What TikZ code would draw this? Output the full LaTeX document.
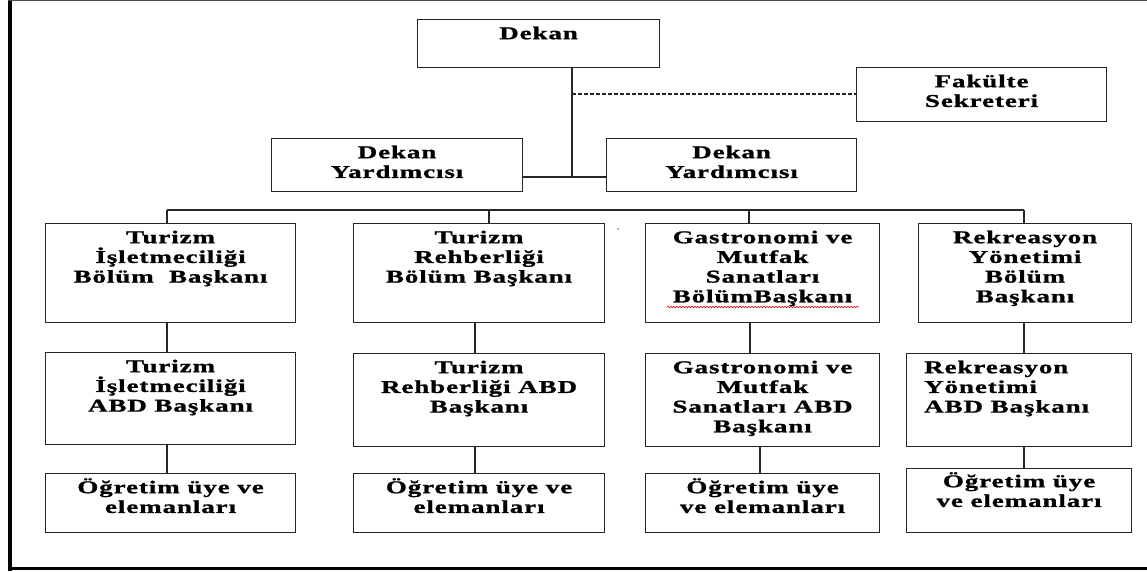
\documentclass[tikz,border=0pt]{standalone}
\usepackage{fontspec}
\newfontfamily\orgfont{Liberation Serif}[UprightFont={* Bold}, FakeStretch=1.5, LetterSpace=5, FakeBold=1.2]
\usetikzlibrary{decorations.pathmorphing}
\newcommand{\orgtxtfont}{\orgfont\fontsize{18}{19.7}\selectfont\lineskiplimit=-100pt\relax}
\tikzset{
  orgbox/.style={draw=black!85, line width=1.1pt, inner sep=0pt, anchor=north west},
  txt/.style={font=\orgtxtfont, align=center, inner sep=0pt, anchor=north},
  conn/.style={draw=black!85, line width=1.1pt},
  dconn/.style={draw=black!85, line width=1.3pt, dash pattern=on 4pt off 2pt}
}
\newcommand{\obox}[5]{\node[orgbox, minimum width={#4-#2}, minimum height={#5-#3}] (#1) at (#2,#3) {};}
\newcommand{\ostrut}{\rule{0pt}{17pt}}
\begin{document}
\begin{tikzpicture}[x=1pt,y=-1pt]
\useasboundingbox (0,0) rectangle (1147,571);
% outer frame
\draw[line width=4pt] (9.5,0) -- (9.5,571);
\draw[line width=3.5pt] (8,568.5) -- (1147,568.5);
\draw[black!70, line width=1pt] (8,0.5) -- (1147,0.5);
% boxes
\obox{dekan}{417}{19}{659}{67}
\obox{sek}{856}{67}{1106}{121}
\obox{dy1}{271}{138}{522}{191}
\obox{dy2}{606}{138}{856}{191}
\obox{c1r1}{45}{223}{295}{322}
\obox{c1r2}{45}{352}{295}{444}
\obox{c1r3}{45}{473}{295}{532}
\obox{c2r1}{353}{223}{604}{322}
\obox{c2r2}{353}{353}{604}{446}
\obox{c2r3}{353}{473}{604}{532}
\obox{c3r1}{645}{223}{879}{322}
\obox{c3r2}{645}{353}{879}{446}
\obox{c3r3}{645}{473}{879}{532}
\obox{c4r1}{918}{223}{1131}{322}
\obox{c4r2}{906}{353}{1131}{446}
\obox{c4r3}{906}{468}{1131}{532}
% texts
\node[txt] (dekant) at ([yshift=-3pt]dekan.north) {\ostrut Dekan};
\node[txt] (sekt) at ([yshift=-3pt]sek.north) {\ostrut Fakülte\\Sekreteri};
\node[txt] (dy1t) at ([yshift=-3pt]dy1.north) {\ostrut Dekan\\Yardımcısı};
\node[txt] (dy2t) at ([yshift=-3pt]dy2.north) {\ostrut Dekan\\Yardımcısı};
\node[txt] (c1r1t) at ([yshift=-3pt]c1r1.north) {\ostrut Turizm\\İşletmeciliği\\Bölüm~ Başkanı};
\node[txt] (c1r2t) at ([yshift=-3pt]c1r2.north) {\ostrut Turizm\\İşletmeciliği\\ABD Başkanı};
\node[txt] (c1r3t) at ([yshift=-3pt]c1r3.north) {\ostrut Öğretim üye ve\\elemanları};
\node[txt] (c2r1t) at ([yshift=-3pt]c2r1.north) {\ostrut Turizm\\Rehberliği\\Bölüm Başkanı};
\node[txt] (c2r2t) at ([yshift=-3pt]c2r2.north) {\ostrut Turizm\\Rehberliği ABD\\Başkanı};
\node[txt] (c2r3t) at ([yshift=-3pt]c2r3.north) {\ostrut Öğretim üye ve\\elemanları};
\node[txt] (c3r1t) at ([yshift=-3pt]c3r1.north) {\ostrut Gastronomi ve\\Mutfak\\Sanatları\\BölümBaşkanı};
\node[txt] (c3r2t) at ([yshift=-3pt]c3r2.north) {\ostrut Gastronomi ve\\Mutfak\\Sanatları ABD\\Başkanı};
\node[txt] (c3r3t) at ([yshift=-3pt]c3r3.north) {\ostrut Öğretim üye\\ve elemanları};
\node[txt] (c4r1t) at ([yshift=-3pt]c4r1.north) {\ostrut Rekreasyon\\Yönetimi\\Bölüm\\Başkanı};
\node[txt, align=left, anchor=north west] (c4r2t) at ([xshift=18pt,yshift=-3pt]c4r2.north west) {\ostrut Rekreasyon\\Yönetimi\\ABD Başkanı};
\node[txt] (c4r3t) at ([yshift=-2pt]c4r3.north) {\ostrut Öğretim üye\\ve elemanları};
% spell-check underline and stray dot
\draw[red!85!black, line width=0.6pt, decorate, decoration={snake, amplitude=0.8pt, segment length=3pt}] (667,307) -- (859,307);
\fill[black!60] (618,229) circle[radius=0.9pt];
% connectors
\coordinate (j) at (572,177);
\coordinate (dj) at (572,94);
\draw[conn] (dekan.south -| j) -- (j);
\draw[conn] (dy1.east |- j) -- (dy2.west |- j);
\draw[dconn] (dj) -- (sek.west |- dj);
\coordinate (b1) at (167,210);
\coordinate (b2) at (489,210);
\coordinate (b3) at (749,210);
\coordinate (b4) at (1024,210);
\draw[conn] (b1) -- (b4);
\draw[conn] (b1) -- (c1r1.north -| b1);
\draw[conn] (b2) -- (c2r1.north -| b2);
\draw[conn] (b3) -- (c3r1.north -| b3);
\draw[conn] (b4) -- (c4r1.north -| b4);
\coordinate (v1) at (167,0);
\coordinate (v2) at (475,0);
\coordinate (v3a) at (750,0);
\coordinate (v3b) at (760,0);
\coordinate (v4) at (1024,0);
\draw[conn] (c1r1.south -| v1) -- (c1r2.north -| v1);
\draw[conn] (c1r2.south -| v1) -- (c1r3.north -| v1);
\draw[conn] (c2r1.south -| v2) -- (c2r2.north -| v2);
\draw[conn] (c2r2.south -| v2) -- (c2r3.north -| v2);
\draw[conn] (c3r1.south -| v3a) -- (c3r2.north -| v3a);
\draw[conn] (c3r2.south -| v3b) -- (c3r3.north -| v3b);
\draw[conn] (c4r1.south -| v4) -- (c4r2.north -| v4);
\draw[conn] (c4r2.south -| v4) -- (c4r3.north -| v4);
\end{tikzpicture}
\end{document}
